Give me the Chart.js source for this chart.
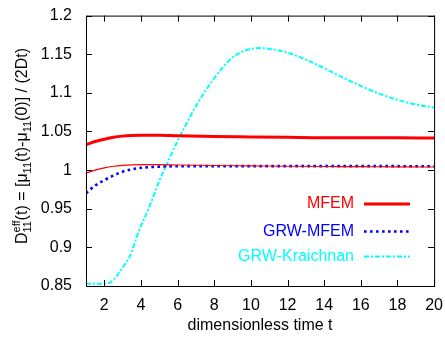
<!DOCTYPE html>
<html>
<head>
<meta charset="utf-8">
<script src="https://cdn.jsdelivr.net/npm/chart.js@4.4.1/dist/chart.umd.min.js"></script>
<style>
    html, body { margin: 0; padding: 0; background: #fff; }
    #wrap { width: 445px; height: 338px; }
</style>
</head>
<body>
<div id="wrap"><canvas id="diffChart" width="445" height="338"></canvas></div>
<script>
// Data
const tSmooth = [1, 1.5, 2, 2.5, 3, 3.5, 4, 5, 6, 8, 10, 12, 14, 16, 18, 20];
const mfemThick = [1.033, 1.037, 1.040, 1.0425, 1.044, 1.0448, 1.0452, 1.0452, 1.0445, 1.0435, 1.043, 1.0425, 1.042, 1.042, 1.0418, 1.0415];
const mfemThin = [0.996, 1.000, 1.003, 1.005, 1.0062, 1.0068, 1.007, 1.007, 1.0066, 1.006, 1.0055, 1.005, 1.0047, 1.0045, 1.0042, 1.004];
const grwMfem = [0.970, 0.980, 0.987, 0.993, 0.998, 1.001, 1.003, 1.0045, 1.005, 1.0052, 1.0052, 1.0052, 1.0052, 1.0052, 1.0051, 1.005];

const tKraich = [1, 1.5, 2, 2.25, 2.5, 2.8, 3, 3.4, 3.9, 4.45, 5, 5.5, 6, 6.5, 7, 7.5, 8, 8.5, 9, 9.5, 10, 10.5, 11, 12, 13, 14, 15, 16, 17, 18, 19, 20];
const grwKraich = [0.853, 0.853, 0.853, 0.854, 0.858, 0.867, 0.874, 0.889, 0.922, 0.952, 0.986, 1.012, 1.038, 1.061, 1.083, 1.102, 1.119, 1.134, 1.146, 1.153, 1.157, 1.158, 1.157, 1.152, 1.143, 1.132, 1.12, 1.109, 1.099, 1.091, 1.085, 1.081];

const xTicks = [2, 4, 6, 8, 10, 12, 14, 16, 18, 20];
const yTicks = [0.85, 0.9, 0.95, 1, 1.05, 1.1, 1.15, 1.2];

const FONT = '"Liberation Sans", Arial, sans-serif';

function pairs(xs, ys) {
    return xs.map((x, i) => ({ x: x, y: ys[i] }));
}

// Box frame with inward ticks on all four sides (gnuplot look)
const framePlugin = {
    id: 'frame',
    afterDraw(chart) {
        const { ctx, chartArea: a, scales } = chart;
        const len = 6;
        ctx.save();
        ctx.strokeStyle = '#000';
        ctx.lineWidth = 1;
        ctx.strokeRect(a.left + 0.5, a.top + 0.5, a.right - a.left, a.bottom - a.top);
        ctx.beginPath();
        xTicks.forEach(v => {
            const x = Math.round(scales.x.getPixelForValue(v)) + 0.5;
            ctx.moveTo(x, a.bottom); ctx.lineTo(x, a.bottom - len);
            ctx.moveTo(x, a.top); ctx.lineTo(x, a.top + len);
        });
        yTicks.forEach(v => {
            const y = Math.round(scales.y.getPixelForValue(v)) + 0.5;
            ctx.moveTo(a.left, y); ctx.lineTo(a.left + len, y);
            ctx.moveTo(a.right, y); ctx.lineTo(a.right - len, y);
        });
        ctx.stroke();
        ctx.restore();
    }
};

// Legend: right aligned label followed by a line sample
const keyPlugin = {
    id: 'key',
    afterDraw(chart) {
        const ctx = chart.ctx;
        const rows = [
            { ds: 0, y: 204 },
            { ds: 2, y: 231.5 },
            { ds: 3, y: 256.5 }
        ];
        ctx.save();
        ctx.font = '16px ' + FONT;
        ctx.textAlign = 'right';
        ctx.textBaseline = 'middle';
        rows.forEach(r => {
            const d = chart.data.datasets[r.ds];
            ctx.fillStyle = d.borderColor;
            ctx.fillText(d.label, 354, r.y);
            ctx.strokeStyle = d.borderColor;
            ctx.lineWidth = d.borderWidth;
            ctx.setLineDash(d.borderDash || []);
            ctx.beginPath();
            ctx.moveTo(364, r.y);
            ctx.lineTo(410, r.y);
            ctx.stroke();
        });
        ctx.restore();
    }
};

// Rotated y title with sub/superscripts
const yTitlePlugin = {
    id: 'yTitle',
    afterDraw(chart) {
        const ctx = chart.ctx;
        const main = '16px ' + FONT;
        const small = '11px ' + FONT;
        const parts = [
            { t: 'D', f: main, dy: 0 },
            { t: 'eff', f: small, dy: -7, stackWith: '11' },
            { t: '(t) = [\u03bc', f: main, dy: 0 },
            { t: '11', f: small, dy: 4 },
            { t: '(t)-\u03bc', f: main, dy: 0 },
            { t: '11', f: small, dy: 4 },
            { t: '(0)] / (2Dt)', f: main, dy: 0 }
        ];
        ctx.save();
        parts.forEach(p => {
            ctx.font = p.f;
            p.w = ctx.measureText(p.t).width;
            if (p.stackWith) {
                p.w = Math.max(p.w, ctx.measureText(p.stackWith).width);
            }
        });
        const total = parts.reduce((s, p) => s + p.w, 0);
        ctx.translate(27, 146);
        ctx.rotate(-Math.PI / 2);
        ctx.fillStyle = '#000';
        ctx.textBaseline = 'alphabetic';
        ctx.textAlign = 'left';
        let x = -total / 2;
        parts.forEach(p => {
            ctx.font = p.f;
            ctx.fillText(p.t, x, p.dy);
            if (p.stackWith) ctx.fillText(p.stackWith, x, 4);
            x += p.w;
        });
        ctx.restore();
    }
};

function initializeChart() {
    const ctx = document.getElementById('diffChart').getContext('2d');
    new Chart(ctx, {
        type: 'line',
        data: {
            datasets: [{
                label: 'MFEM',
                data: pairs(tSmooth, mfemThick),
                borderColor: '#ff0000',
                borderWidth: 3
            }, {
                label: 'MFEM (thin)',
                data: pairs(tSmooth, mfemThin),
                borderColor: '#ff0000',
                borderWidth: 1.2
            }, {
                label: 'GRW-MFEM',
                data: pairs(tSmooth, grwMfem),
                borderColor: '#0000ff',
                borderWidth: 2.6,
                borderDash: [2.6, 3.4]
            }, {
                label: 'GRW-Kraichnan',
                data: pairs(tKraich, grwKraich),
                borderColor: '#00ffff',
                borderWidth: 2,
                borderDash: [5, 2, 2, 2]
            }]
        },
        options: {
            responsive: false,
            animation: false,
            devicePixelRatio: 1,
            layout: { padding: { left: 0, top: 14, right: 10, bottom: 0 } },
            elements: {
                point: { radius: 0 },
                line: { cubicInterpolationMode: 'monotone', fill: false }
            },
            plugins: {
                legend: { display: false },
                tooltip: { enabled: false }
            },
            scales: {
                x: {
                    type: 'linear',
                    min: 1,
                    max: 20,
                    afterBuildTicks: s => { s.ticks = xTicks.map(v => ({ value: v })); },
                    afterFit: s => { s.height = 52; },
                    grid: { display: false },
                    border: { display: false },
                    ticks: {
                        color: '#000',
                        font: { family: FONT, size: 16 },
                        padding: 2,
                        maxRotation: 0,
                        callback: v => String(v)
                    },
                    title: {
                        display: true,
                        text: 'dimensionless time t',
                        color: '#000',
                        font: { family: FONT, size: 16 },
                        padding: { top: 0, bottom: 3 }
                    }
                },
                y: {
                    min: 0.85,
                    max: 1.2,
                    afterBuildTicks: s => { s.ticks = yTicks.map(v => ({ value: v })); },
                    afterFit: s => { s.width = 86; },
                    grid: { display: false },
                    border: { display: false },
                    ticks: {
                        color: '#000',
                        font: { family: FONT, size: 16 },
                        padding: 6,
                        callback: v => String(Number(v.toFixed(2)))
                    }
                }
            }
        },
        plugins: [framePlugin, keyPlugin, yTitlePlugin]
    });
}

document.addEventListener('DOMContentLoaded', initializeChart);
</script>
</body>
</html>
